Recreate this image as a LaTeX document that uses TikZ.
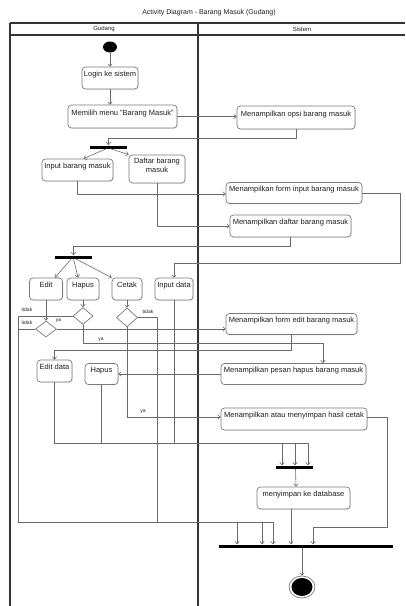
\documentclass[tikz,border=0pt]{standalone}
\usepackage{fontspec}
\setmainfont{Liberation Sans}
\usetikzlibrary{arrows.meta,shapes.geometric,shadows}
\definecolor{frameline}{HTML}{333333}
\definecolor{wire}{HTML}{6A6A6A}
\definecolor{boxline}{HTML}{7A7A7A}
\definecolor{ink}{HTML}{1E1E1E}

\begin{document}
\begin{tikzpicture}[x=1pt,y=-1pt,
  every node/.style={text=ink},
  act/.style={draw=boxline, line width=0.7pt, rounded corners=3.5pt, fill=white,
    inner xsep=1pt, inner ysep=1pt, text height=5.4pt, text depth=8pt,
    font=\fontsize{7.5}{9}\selectfont,
    drop shadow={shadow xshift=0.8pt, shadow yshift=-0.8pt, opacity=0.18}},
  sz/.style 2 args={minimum width=#1pt, minimum height=#2pt},
  decision/.style={diamond, draw=boxline, line width=0.7pt, fill=white, inner sep=0pt},
  bar/.style={rectangle, fill=black, draw=none, inner sep=0pt, minimum height=3pt},
  flow/.style={draw=wire, line width=0.6pt, -{Straight Barb[length=2.5pt,width=4.5pt]}},
  lbl/.style={font=\fontsize{5}{6}\selectfont, inner sep=0pt},
  lane/.style={font=\fontsize{6}{7}\selectfont, inner sep=0pt},
]
\useasboundingbox (0,0) rectangle (405,606);

% title and swimlanes
\node[font=\fontsize{7}{8}\selectfont, inner sep=0pt] (title) at (209,13) {Activity Diagram - Barang Masuk (Gudang)};
\draw[frameline, line width=1.3pt] (10,23) -- (405,23);
\draw[frameline, line width=1.1pt] (10,35) -- (405,35);
\draw[frameline, line width=1.5pt] (10,23) -- (10,606);
\draw[frameline, line width=1.8pt] (198,23) -- (198,606);
\node[lane] (laneG) at (104,29) {Gudang};
\node[lane] (laneS) at (302,29) {Sistem};

% start
\node[ellipse, fill=black, minimum width=14pt, minimum height=11pt, inner sep=0pt] (start) at (110,47) {};

% activities
\node[act, sz={56}{22}]  (login)    at (110,78)    {Login ke sistem};
\node[act, sz={109}{23}] (memilih)  at (122.5,116.5) {Memilih menu "Barang Masuk"};
\node[act, sz={118}{23}] (opsi)     at (296,117.5) {Menampilkan opsi barang masuk};
\node[bar, minimum width=37pt] (fork1) at (108.5,147) {};
\node[act, sz={71}{22}]  (inputbm)  at (77.5,170)  {Input barang masuk};
\node[act, sz={56}{28}, align=center, text height=14.4pt, text depth=7pt] (daftar) at (157,169) {Daftar barang\\masuk};
\node[act, sz={136}{21}] (forminput) at (294,193)  {Menampilkan form input barang masuk};
\node[act, sz={121}{22}] (menampdaftar) at (290.5,226) {Menampilkan daftar barang masuk};
\node[bar, minimum width=37pt] (fork2) at (73.5,257) {};
\node[act, sz={33}{22}]  (edit)     at (46,289)    {Edit};
\node[act, sz={32}{22}]  (hapus)    at (83,289)    {Hapus};
\node[act, sz={30}{22}]  (cetak)    at (127,289)   {Cetak};
\node[act, sz={38}{22}]  (inputdata) at (174,289)  {Input data};
\node[decision, minimum width=21pt, minimum height=16pt] (editd)  at (46,329)    {};
\node[decision, minimum width=20pt, minimum height=17pt] (hapusd) at (83,316)    {};
\node[decision, minimum width=21pt, minimum height=19pt] (cetakd) at (127,317.5) {};
\node[act, sz={131}{21}] (formedit) at (291.5,324) {Menampilkan form edit barang masuk};
\node[act, sz={35}{22}]  (editdata) at (54.5,371)  {Edit data};
\node[act, sz={33}{21}]  (hapus2)   at (101.5,374) {Hapus};
\node[act, sz={145}{21}] (pesanhapus) at (293.5,374) {Menampilkan pesan hapus barang masuk};
\node[act, sz={146}{22}] (cetakhasil) at (294,419) {Menampilkan atau menyimpan hasil cetak};
\node[bar, minimum width=37pt] (join3) at (294,467) {};
\node[act, sz={93}{22}]  (database) at (303.5,498) {menyimpan ke database};
\node[bar, minimum width=174pt] (finalbar) at (306,546) {};

% end
\node[ellipse, draw=boxline, line width=0.7pt, fill=white, minimum width=26pt, minimum height=22pt, inner sep=0pt] (end) at (302,587) {};
\node[ellipse, fill=black, minimum width=21pt, minimum height=18pt, inner sep=0pt] (endcore) at (end) {};

% bend points of the long routes
\coordinate (lft) at (18,522);
\coordinate (ctk) at (157,522);
\coordinate (rgt) at (387,527);
\coordinate (fr)  at (400,263);

% flows
\draw[flow] (start.south) -- (login.north);
\draw[flow] (login.south) -- (login.south |- memilih.north);
\draw[flow] (memilih.east) -- (memilih.east -| opsi.west);
\draw[flow] (opsi.south) -- ++(0,9) -| (fork1.north);
\draw[flow] ([xshift=-2pt]fork1.south) -- ([xshift=6pt]inputbm.north);
\draw[flow] ([xshift=2pt]fork1.south) -- (daftar.north west);
\draw[flow] (inputbm.south) |- ([yshift=-1pt]forminput.west);
\draw[flow] (daftar.south) |- (menampdaftar.west);
\draw[flow] (menampdaftar.south) -- ++(0,9) -| (fork2.north);
\draw[flow] ([xshift=-2pt]fork2.south) -- ([xshift=9pt]edit.north);
\draw[flow] (fork2.south) -- ([xshift=-5pt]hapus.north);
\draw[flow] ([xshift=2pt]fork2.south) -- (cetak.north west);
\draw[flow] (forminput.east) -| (fr) -| (inputdata.north);
\draw[flow] (edit.south) -- (editd.north);
\draw[flow] (hapus.south) -- (hapusd.north);
\draw[flow] (cetak.south) -- (cetakd.north);
\draw[flow] (editd.east) -- (editd.east -| formedit.west);
\draw[flow] (editd.west) -| (lft) -| ([xshift=-69pt]finalbar.north);
\draw[flow] (hapusd.west) -| (lft) -| ([xshift=-44pt]finalbar.north);
\draw[flow] (cetakd.east) -| (ctk) -| ([xshift=-33pt]finalbar.north);
\draw[flow] (hapusd.south) -- ++(0,18.5) -| ([xshift=29.5pt]pesanhapus.north);
\draw[flow] (cetakd.south) |- ([yshift=2pt]cetakhasil.west);
\draw[flow] (formedit.south) -- ++(0,15.5) -| (editdata.north);
\draw[flow] (pesanhapus.west) -- (hapus2.east);
\draw[flow] (editdata.south) -- ++(0,61) -| ([xshift=-12pt]join3.north);
\draw[flow] (hapus2.south) -- ++(0,58.5) -| ([xshift=1pt]join3.north);
\draw[flow] (inputdata.south) -- ++(0,143) -| ([xshift=14pt]join3.north);
\draw[flow] ([xshift=1.5pt]join3.south) -- ([xshift=-7.5pt]database.north);
\draw[flow] ([xshift=-12.5pt]database.south) -- ([xshift=-12.5pt]database.south |- finalbar.north);
\draw[flow] ([yshift=2pt]cetakhasil.east) -| (rgt) -| ([xshift=7pt]finalbar.north);
\draw[flow] ([xshift=-4pt]finalbar.south) -- (end.north);

% guard labels
\node[lbl] (gHapusNo) at (27,309.5) {tidak};
\node[lbl] (gEditNo)  at (27,323)   {tidak};
\node[lbl] (gEditYes) at (58.5,321) {ya};
\node[lbl] (gHapusYes) at (101,339.5) {ya};
\node[lbl] (gCetakNo) at (148,312)  {tidak};
\node[lbl] (gCetakYes) at (143,412) {ya};
\end{tikzpicture}
\end{document}
